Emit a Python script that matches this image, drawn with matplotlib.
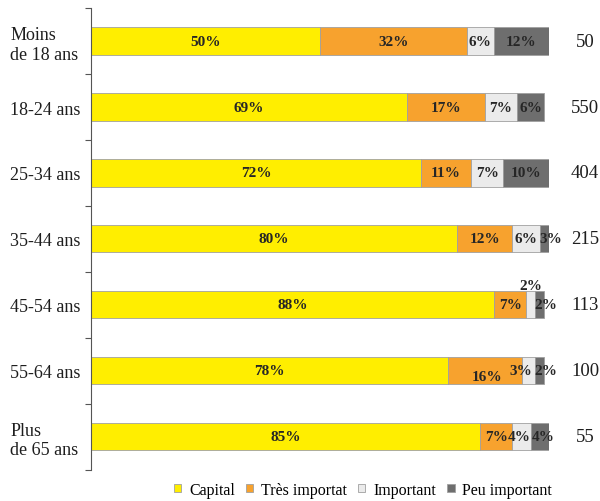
import matplotlib
matplotlib.use("Agg")
import matplotlib.pyplot as plt
from matplotlib.patches import Patch
import numpy as np

categories = ["Moins\nde 18 ans", "18-24 ans", "25-34 ans", "35-44 ans",
              "45-54 ans", "55-64 ans", "Plus\nde 65 ans"]
capital = [50, 69, 72, 80, 88, 78, 85]
tres_important = [32, 17, 11, 12, 7, 16, 7]
important = [6, 7, 7, 6, 2, 3, 4]
peu_important = [12, 6, 10, 3, 2, 2, 4]
counts = [50, 550, 404, 215, 113, 100, 55]
series_names = ["Capital", "Très importat", "Important", "Peu important"]

colors = ["#FFEE00", "#F7A22E", "#EBEBEB", "#6E6E6E"]

plt.rcParams['font.family'] = ['Liberation Serif', 'DejaVu Serif']

fig = plt.figure(figsize=(6.0, 5.02), dpi=100)
ax = fig.add_axes([0.1517, 0.062, 0.7633, 0.920])

series = [capital, tres_important, important, peu_important]
y = np.arange(len(categories))
left = np.zeros(len(categories))
bar_h = 0.41

# label offsets (data x, data y) for crowded labels: (row, series) -> (dx, dy)
offsets = {
    (4, 2): (0.0, -0.30),
    (4, 3): (1.2, 0.0),
    (5, 1): (0.5, 0.08),
    (5, 2): (-1.6, 0.0),
    (5, 3): (1.2, 0.0),
    (3, 3): (0.8, 0.0),
    (6, 2): (-0.6, 0.0),
    (6, 3): (0.8, 0.0),
}

for s, (vals, col) in enumerate(zip(series, colors)):
    vals = np.array(vals, dtype=float)
    ax.barh(y, vals, left=left, height=bar_h, color=col,
            edgecolor="#A0A0A0", linewidth=0.6, zorder=2)
    for i, v in enumerate(vals):
        cx = left[i] + v / 2
        cy = y[i]
        dx, dy = offsets.get((i, s), (0.0, 0.0))
        ax.text(cx + dx, cy + dy, f"{int(v)}%", ha="center", va="center",
                fontsize=11, fontweight="bold", color="#262626", zorder=3,
                clip_on=False)
    left += vals

for i, c in enumerate(counts):
    ax.text(107.9, y[i], str(c), ha="center", va="center", fontsize=13.5,
            color="#1E1E1E", clip_on=False)

ax.set_xlim(0, 100)
ax.set_ylim(len(categories) - 0.5, -0.5)
ax.set_xticks([])
ax.set_yticks(y)
ax.set_yticklabels(categories, fontsize=13, color="#1E1E1E")
ax.tick_params(axis="y", which="major", length=0, pad=58)
for lab in ax.get_yticklabels():
    lab.set_horizontalalignment("left")
    lab.set_multialignment("left")
ax.set_yticks(np.arange(-0.5, len(categories), 1.0), minor=True)
ax.tick_params(axis="y", which="minor", length=4, width=0.8, color="#555555")

for sp in ["top", "right", "bottom"]:
    ax.spines[sp].set_visible(False)
ax.spines["left"].set_color("#555555")
ax.spines["left"].set_linewidth(0.8)

handles = [Patch(facecolor=c, edgecolor="#A0A0A0", linewidth=0.6) for c in colors]
fig.legend(handles, series_names, loc="lower center", bbox_to_anchor=(0.605, -0.022),
           ncol=4, frameon=False, fontsize=11.5, handlelength=0.45, handleheight=0.45,
           handletextpad=0.5, columnspacing=0.7)

fig.savefig("out.png", dpi=100)
